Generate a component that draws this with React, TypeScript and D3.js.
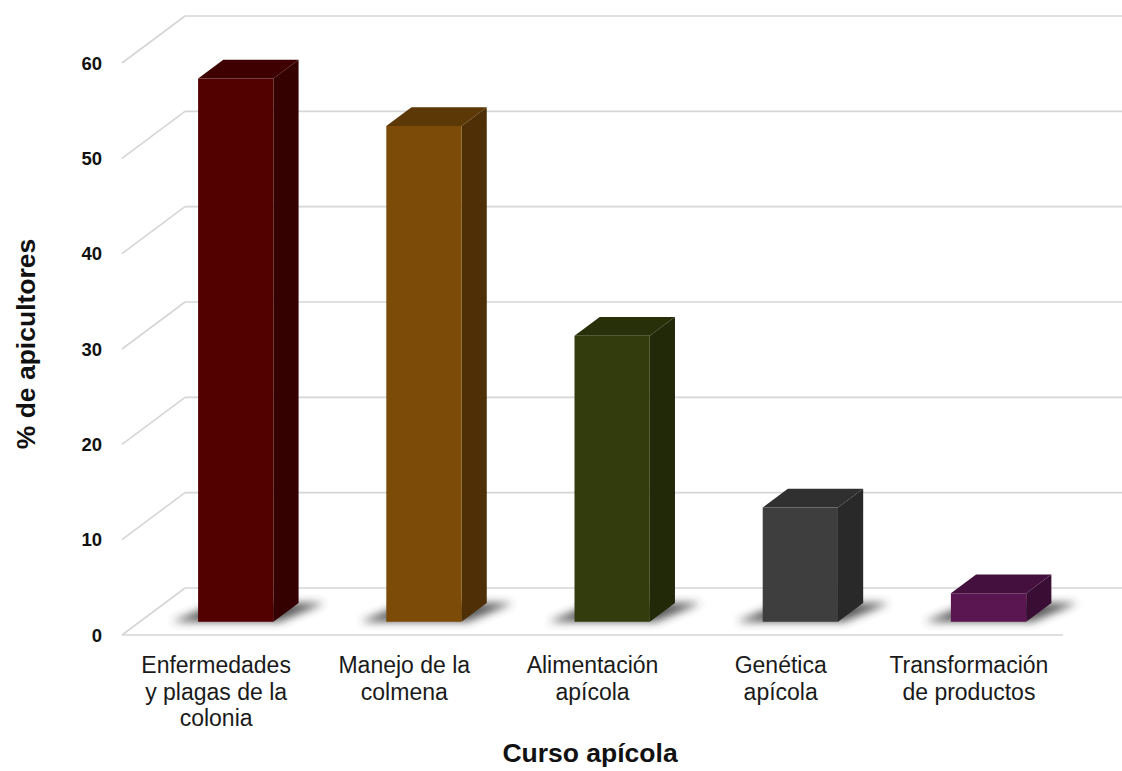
import React from "react";
import * as d3 from "d3";

// Curso apícola de interés (% de apicultores)
const categories: string[][] = [
  ["Enfermedades", "y plagas de la", "colonia"],
  ["Manejo de la", "colmena"],
  ["Alimentación", "apícola"],
  ["Genética", "apícola"],
  ["Transformación", "de productos"],
];
const values: number[] = [57, 52, 30, 12, 3];
const yTicks: number[] = [0, 10, 20, 30, 40, 50, 60];
const frontColors = ["#530000", "#7c4b08", "#333c0d", "#3e3e3e", "#5a1650"];
const sideColors = ["#340000", "#4f3006", "#222908", "#292929", "#3a0e34"];
const topColors = ["#3e0000", "#5d3807", "#283009", "#303030", "#44103d"];

const W = 1122;
const H = 771;

export default function App() {
  // oblique projection: front plane of the floor and the back wall offset
  const floorLeft = 122;
  const floorRight = 1063;
  const y = d3.scaleLinear().domain([0, 60]).range([635, 63]);
  const x = d3
    .scaleBand<number>()
    .domain(d3.range(categories.length))
    .range([floorLeft, floorRight]);
  const depthDx = 63;
  const depthDy = -47;
  // bar occupies a slice of the floor depth
  const fFront = 0.28;
  const fBack = 0.68;
  const bFx = depthDx * fFront;
  const bFy = depthDy * fFront;
  const bBx = depthDx * fBack;
  const bBy = depthDy * fBack;
  const barW = x.bandwidth() * 0.4;

  const gridColor = "#d6d6d6";

  return (
    <svg
      width={W}
      height={H}
      style={{ position: "absolute", left: 0, top: 0, background: "#fff" }}
      fontFamily="'Liberation Sans', Arial, sans-serif"
    >
      <defs>
        <filter id="shadowBlur" x="-50%" y="-100%" width="200%" height="300%">
          <feGaussianBlur stdDeviation="4" />
        </filter>
      </defs>

      {/* back wall gridlines and floor/side diagonals */}
      {yTicks.map((t) => (
        <g key={t}>
          <line
            x1={floorLeft + depthDx}
            x2={floorRight + depthDx}
            y1={y(t) + depthDy}
            y2={y(t) + depthDy}
            stroke={gridColor}
            strokeWidth={1.6}
          />
          <line
            x1={floorLeft}
            x2={floorLeft + depthDx}
            y1={y(t)}
            y2={y(t) + depthDy}
            stroke={gridColor}
            strokeWidth={1.6}
          />
        </g>
      ))}
      {/* front edge of the floor */}
      <line
        x1={floorLeft}
        x2={floorRight}
        y1={y(0)}
        y2={y(0)}
        stroke={gridColor}
        strokeWidth={1.6}
      />

      {/* tick labels */}
      {yTicks.map((t) => (
        <text
          key={"l" + t}
          x={102}
          y={y(t)}
          dy="0.36em"
          textAnchor="end"
          fontSize={18.5}
          fontWeight="bold"
          fill="#111"
        >
          {t}
        </text>
      ))}

      {/* bars */}
      {values.map((v, i) => {
        const cx = (x(i) as number) + x.bandwidth() / 2 + bFx + 2;
        const x0 = cx - barW / 2;
        const x1 = cx + barW / 2;
        const yb = y(0) + bFy;
        const yt = y(v) + bFy;
        const sdx = bBx - bFx;
        const sdy = bBy - bFy;
        const shadow = [
          [x0 - 26, yb],
          [x1 + 6, yb],
          [x1 + sdx + 26, yb + sdy],
          [x0 + sdx - 6, yb + sdy],
        ];
        const front = [
          [x0, yb],
          [x1, yb],
          [x1, yt],
          [x0, yt],
        ];
        const side = [
          [x1, yb],
          [x1 + sdx, yb + sdy],
          [x1 + sdx, yt + sdy],
          [x1, yt],
        ];
        const top = [
          [x0, yt],
          [x1, yt],
          [x1 + sdx, yt + sdy],
          [x0 + sdx, yt + sdy],
        ];
        const pts = (p: number[][]) => p.map((q) => q.join(",")).join(" ");
        return (
          <g key={"b" + i}>
            <polygon
              points={pts(shadow)}
              fill="#333"
              opacity={0.8}
              filter="url(#shadowBlur)"
            />
            <polygon points={pts(side)} fill={sideColors[i]} />
            <polygon points={pts(top)} fill={topColors[i]} />
            <polygon points={pts(front)} fill={frontColors[i]} />
          </g>
        );
      })}

      {/* category labels */}
      {categories.map((lines, i) => (
        <text
          key={"c" + i}
          x={(x(i) as number) + x.bandwidth() / 2}
          y={673}
          textAnchor="middle"
          fontSize={23}
          fill="#1a1a1a"
        >
          {lines.map((ln, j) => (
            <tspan key={j} x={(x(i) as number) + x.bandwidth() / 2} dy={j === 0 ? 0 : 26.5}>
              {ln}
            </tspan>
          ))}
        </text>
      ))}

      {/* axis titles */}
      <text
        x={590}
        y={762}
        textAnchor="middle"
        fontSize={26.5}
        fontWeight="bold"
        fill="#111"
      >
        Curso apícola
      </text>
      <text
        transform={`translate(35,344) rotate(-90)`}
        textAnchor="middle"
        fontSize={26.5}
        fontWeight="bold"
        fill="#111"
      >
        % de apicultores
      </text>
    </svg>
  );
}
